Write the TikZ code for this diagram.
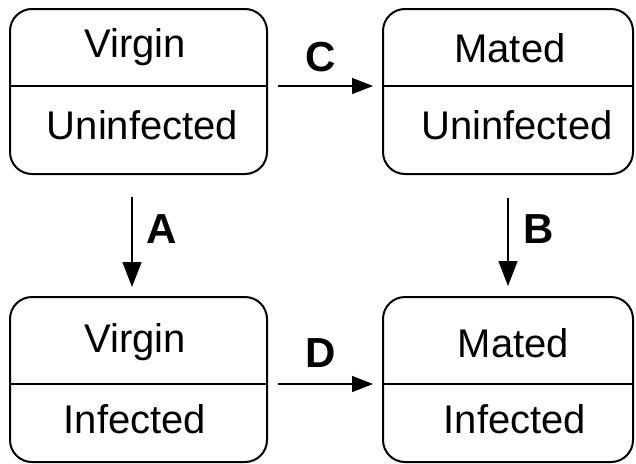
\documentclass[tikz,border=0pt]{standalone}
\usepackage{fontspec}
\setmainfont{Liberation Sans}
\usetikzlibrary{arrows.meta,calc}
\begin{document}
\begin{tikzpicture}[x=1pt,y=-1pt,
  statebox/.style={draw,line width=2pt,rounded corners=22pt,inner sep=0pt},
  divline/.style={line width=1.3pt},
  txt/.style={anchor=base,inner sep=0pt,font=\fontsize{40}{40}\selectfont},
  lbl/.style={anchor=base,inner sep=0pt,font=\fontsize{42}{42}\selectfont\bfseries},
  harrow/.style={line width=1.4pt,-{Triangle[length=21pt,width=16pt]}},
  varrow/.style={line width=1.4pt,-{Triangle[length=25pt,width=19pt]}}]
\useasboundingbox (0,0) rectangle (636,463);
% boxes
\node[statebox,minimum width=257pt,minimum height=165pt] (vu) at (138.5,91.5) {};
\node[statebox,minimum width=250pt,minimum height=165pt] (mu) at (508,91.5) {};
\node[statebox,minimum width=257pt,minimum height=165pt] (vi) at (138.5,379.5) {};
\node[statebox,minimum width=250pt,minimum height=165pt] (mi) at (508,379.5) {};
% dividers
\coordinate (vuL) at (10,86); \coordinate (vuR) at (267,86);
\coordinate (muL) at (383,86); \coordinate (muR) at (633,86);
\coordinate (viL) at (10,384); \coordinate (viR) at (267,384);
\coordinate (miL) at (383,384); \coordinate (miR) at (633,384);
\draw[divline] (vuL) -- (vuR);
\draw[divline] (muL) -- (muR);
\draw[divline] (viL) -- (viR);
\draw[divline] (miL) -- (miR);
% texts
\node[txt] (t1) at (135,57) {Virgin};
\node[txt] (t2) at (142.5,139) {Uninfected};
\node[txt] (t3) at (510,62) {Mated};
\node[txt] (t4) at (517,139) {Uninfected};
\node[txt] (t5) at (135,352) {Virgin};
\node[txt] (t6) at (135,433) {Infected};
\node[txt] (t7) at (513.5,357) {Mated};
\node[txt] (t8) at (515,433) {Infected};
% arrows
\coordinate (aTop) at (132,174); \coordinate (aBot) at (132,297);
\draw[harrow,shorten <=11pt,shorten >=10pt] (vuR) -- (muL);
\draw[harrow,shorten <=11pt,shorten >=10pt] (viR) -- (miL);
\draw[varrow,shorten <=23pt,shorten >=10pt] (aTop) -- (aBot);
\draw[varrow,shorten <=23pt,shorten >=10pt] (mu.south) -- (mi.north);
% labels
\node[lbl] (lc) at (321,71) {C};
\node[lbl] (la) at (162,243) {A};
\node[lbl] (lb) at (539,243) {B};
\node[lbl] (ld) at (321,367) {D};
\end{tikzpicture}
\end{document}
